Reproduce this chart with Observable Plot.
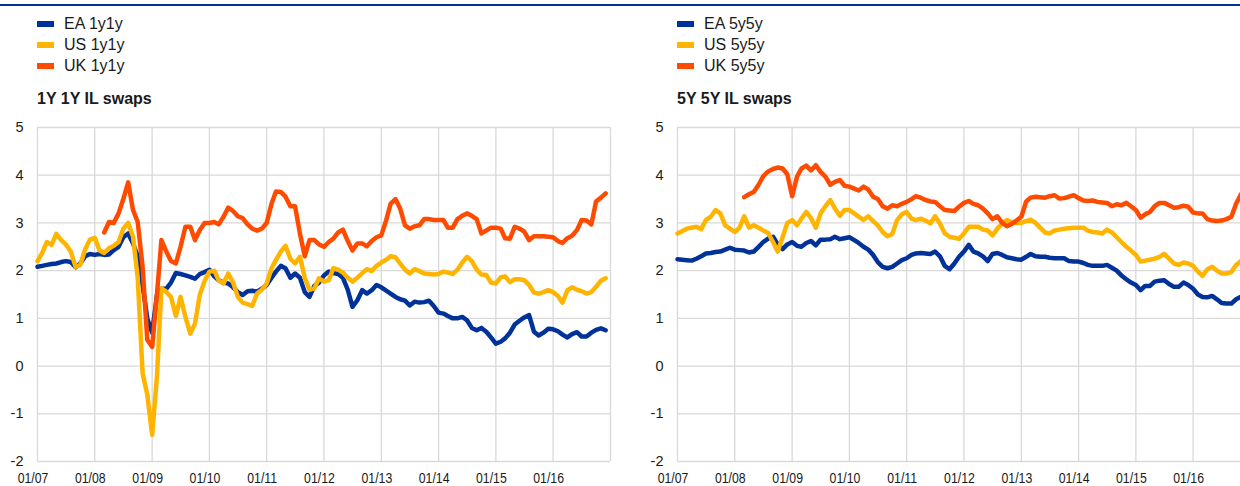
<!DOCTYPE html>
<html>
<head>
<meta charset="utf-8">
<script src="https://cdn.jsdelivr.net/npm/d3@7"></script>
<script src="https://cdn.jsdelivr.net/npm/@observablehq/plot@0.6"></script>
<style>
html, body { margin: 0; padding: 0; background: #fff; }
body { position: relative; width: 1240px; height: 486px; overflow: hidden; font-family: Arial, "Liberation Sans", sans-serif; color: #1a1a1a; }
.toprule { position: absolute; left: 0; top: 4px; width: 1240px; height: 2px; background: #003299; }
.leg { position: absolute; height: 20px; line-height: 20px; font-size: 16px; white-space: nowrap; }
.sw { position: absolute; width: 17px; height: 6px; }
.ttl { position: absolute; font-size: 16px; font-weight: bold; line-height: 20px; white-space: nowrap; }
.chart { position: absolute; top: 115px; width: 620px; height: 371px; }
.chart svg { overflow: visible; max-width: none !important; }
</style>
</head>
<body>
<div class="toprule"></div>
<div id="root"></div>
<script>
// ---- data ----
const months = [
"2007-01","2007-02","2007-03","2007-04","2007-05","2007-06","2007-07","2007-08","2007-09","2007-10","2007-11","2007-12",
"2008-01","2008-02","2008-03","2008-04","2008-05","2008-06","2008-07","2008-08","2008-09","2008-10","2008-11","2008-12",
"2009-01","2009-02","2009-03","2009-04","2009-05","2009-06","2009-07","2009-08","2009-09","2009-10","2009-11","2009-12",
"2010-01","2010-02","2010-03","2010-04","2010-05","2010-06","2010-07","2010-08","2010-09","2010-10","2010-11","2010-12",
"2011-01","2011-02","2011-03","2011-04","2011-05","2011-06","2011-07","2011-08","2011-09","2011-10","2011-11","2011-12",
"2012-01","2012-02","2012-03","2012-04","2012-05","2012-06","2012-07","2012-08","2012-09","2012-10","2012-11","2012-12",
"2013-01","2013-02","2013-03","2013-04","2013-05","2013-06","2013-07","2013-08","2013-09","2013-10","2013-11","2013-12",
"2014-01","2014-02","2014-03","2014-04","2014-05","2014-06","2014-07","2014-08","2014-09","2014-10","2014-11","2014-12",
"2015-01","2015-02","2015-03","2015-04","2015-05","2015-06","2015-07","2015-08","2015-09","2015-10","2015-11","2015-12",
"2016-01","2016-02","2016-03","2016-04","2016-05","2016-06","2016-07","2016-08","2016-09","2016-10","2016-11","2016-12"];

const ea1y1y = [
2.08,2.10,2.12,2.14,2.15,2.18,2.20,2.18,2.07,2.15,2.30,2.35,
2.33,2.35,2.33,2.34,2.43,2.50,2.70,2.78,2.57,2.30,1.70,1.00,
0.70,1.50,1.62,1.62,1.75,1.95,1.93,1.90,1.87,1.83,1.93,1.97,
2.02,1.88,1.80,1.75,1.73,1.65,1.55,1.49,1.57,1.58,1.56,1.62,
1.70,1.85,1.98,2.10,2.05,1.85,1.94,1.85,1.55,1.45,1.68,1.75,
1.90,1.98,1.95,1.93,1.85,1.60,1.24,1.38,1.59,1.52,1.59,1.70,
1.65,1.58,1.52,1.45,1.40,1.37,1.27,1.35,1.33,1.34,1.37,1.26,
1.12,1.10,1.05,1.00,1.00,1.03,0.96,0.80,0.75,0.80,0.72,0.60,
0.47,0.51,0.58,0.70,0.87,0.95,1.02,1.07,0.72,0.64,0.70,0.78,
0.77,0.73,0.66,0.60,0.67,0.71,0.62,0.62,0.70,0.76,0.79,0.75];

const us1y1y = [
2.20,2.38,2.60,2.54,2.77,2.64,2.55,2.40,2.08,2.12,2.45,2.65,
2.69,2.42,2.37,2.47,2.52,2.60,2.88,3.00,2.71,1.85,-0.15,-0.60,
-1.44,-0.20,1.63,1.56,1.45,1.05,1.45,1.03,0.68,0.89,1.50,1.78,
1.98,2.00,1.80,1.73,1.94,1.75,1.45,1.33,1.30,1.26,1.52,1.60,
1.73,2.05,2.22,2.40,2.52,2.25,2.15,2.29,1.85,1.60,1.63,1.84,
1.77,1.80,2.05,2.02,1.96,1.85,1.77,1.85,1.95,2.03,1.99,2.10,
2.17,2.23,2.30,2.28,2.15,2.02,1.94,2.03,1.99,1.94,1.93,1.92,
1.93,1.98,1.96,1.93,2.02,2.17,2.29,2.20,2.02,1.92,1.91,1.75,
1.73,1.86,1.88,1.76,1.82,1.82,1.80,1.70,1.54,1.52,1.55,1.59,
1.55,1.47,1.33,1.59,1.65,1.60,1.57,1.52,1.55,1.66,1.79,1.84];

const uk1y1y = [
null,null,null,null,null,null,null,null,null,null,null,null,
null,null,2.80,3.02,3.00,3.20,3.50,3.85,3.27,3.02,2.08,0.55,
0.40,1.52,2.64,2.40,2.20,2.15,2.50,2.92,2.92,2.64,2.85,3.00,
3.00,3.02,2.97,3.13,3.32,3.25,3.14,3.10,2.97,2.88,2.84,2.88,
3.00,3.40,3.66,3.65,3.55,3.35,3.35,2.78,2.30,2.64,2.64,2.55,
2.50,2.60,2.67,2.80,2.86,2.62,2.42,2.57,2.57,2.51,2.62,2.70,
2.74,3.06,3.40,3.50,3.30,2.95,2.88,2.93,2.95,3.08,3.08,3.06,
3.06,3.06,2.90,2.90,3.08,3.15,3.20,3.15,3.08,2.78,2.84,2.90,
2.90,2.88,2.68,2.67,2.92,2.88,2.82,2.64,2.72,2.72,2.72,2.71,
2.70,2.62,2.58,2.68,2.73,2.85,3.06,3.05,2.97,3.45,3.53,3.62];

const ea5y5y = [
2.24,2.23,2.22,2.21,2.25,2.30,2.36,2.37,2.39,2.40,2.44,2.48,
2.44,2.43,2.42,2.38,2.40,2.50,2.60,2.67,2.71,2.55,2.45,2.55,
2.60,2.52,2.50,2.58,2.62,2.53,2.65,2.65,2.66,2.71,2.66,2.68,
2.70,2.64,2.58,2.50,2.44,2.33,2.18,2.08,2.05,2.08,2.15,2.22,
2.26,2.33,2.36,2.37,2.36,2.35,2.40,2.30,2.10,2.03,2.15,2.29,
2.40,2.54,2.40,2.36,2.30,2.20,2.35,2.37,2.33,2.28,2.26,2.24,
2.23,2.29,2.35,2.30,2.29,2.29,2.27,2.26,2.26,2.26,2.20,2.19,
2.19,2.16,2.12,2.10,2.10,2.10,2.12,2.06,2.00,1.90,1.82,1.75,
1.70,1.59,1.68,1.68,1.77,1.79,1.80,1.72,1.66,1.66,1.75,1.70,
1.62,1.50,1.45,1.44,1.47,1.40,1.32,1.31,1.31,1.40,1.45,1.50];

const us5y5y = [
2.78,2.83,2.88,2.90,2.92,2.87,3.06,3.13,3.27,3.20,2.95,2.88,
2.81,2.90,3.14,2.90,2.95,2.90,2.84,2.79,2.60,2.40,2.70,3.00,
3.06,2.95,3.09,3.23,3.10,2.90,3.20,3.35,3.48,3.30,3.15,3.27,
3.27,3.20,3.13,3.06,3.14,3.04,2.95,2.81,2.72,2.77,3.06,3.18,
3.23,3.09,3.06,3.09,3.05,2.99,3.14,2.99,2.78,2.71,2.69,2.67,
2.78,2.92,2.92,2.92,2.86,2.84,2.74,2.88,2.99,3.06,3.02,3.00,
3.00,3.04,3.07,3.00,2.90,2.80,2.78,2.84,2.86,2.88,2.89,2.90,
2.90,2.90,2.84,2.81,2.80,2.78,2.86,2.80,2.70,2.60,2.50,2.42,
2.33,2.19,2.21,2.23,2.25,2.29,2.35,2.25,2.15,2.12,2.17,2.15,
2.10,1.98,1.89,2.03,2.08,2.00,1.94,1.94,1.97,2.12,2.20,2.25];

const uk5y5y = [
null,null,null,null,null,null,null,null,null,null,null,null,
null,null,3.54,3.60,3.65,3.80,3.98,4.08,4.13,4.16,4.14,4.02,
3.56,3.97,4.14,4.20,4.10,4.21,4.07,3.97,3.80,3.86,3.90,3.78,
3.76,3.72,3.68,3.76,3.70,3.55,3.50,3.35,3.30,3.37,3.35,3.40,
3.44,3.50,3.56,3.53,3.48,3.45,3.44,3.35,3.27,3.26,3.25,3.34,
3.42,3.46,3.40,3.37,3.30,3.20,3.08,3.14,3.00,2.93,2.98,3.05,
3.13,3.45,3.53,3.55,3.54,3.53,3.56,3.58,3.51,3.52,3.55,3.58,
3.52,3.47,3.46,3.47,3.44,3.43,3.42,3.35,3.39,3.37,3.42,3.35,
3.27,3.11,3.18,3.23,3.35,3.42,3.42,3.37,3.32,3.33,3.36,3.34,
3.22,3.20,3.20,3.08,3.05,3.04,3.05,3.08,3.13,3.40,3.60,3.70];

const yTicks = [-2, -1, 0, 1, 2, 3, 4, 5];
const gridYears = ["2007-01-01","2008-01-01","2009-01-01","2010-01-01","2011-01-01","2012-01-01","2013-01-01","2014-01-01","2015-01-01","2016-01-01","2017-01-01"];
const labelYears = ["2007-01-01","2008-01-01","2009-01-01","2010-01-01","2011-01-01","2012-01-01","2013-01-01","2014-01-01","2015-01-01","2016-01-01"];
const colors = ["#003299", "#ffb400", "#ff4b00"];
const leftNames = ["EA 1y1y", "US 1y1y", "UK 1y1y"];
const rightNames = ["EA 5y5y", "US 5y5y", "UK 5y5y"];
const leftTitle = "1Y 1Y IL swaps";
const rightTitle = "5Y 5Y IL swaps";

// ---- drawing ----
const root = document.getElementById("root");
const FONT = "Arial, 'Liberation Sans', sans-serif";

function legend(x, names, title) {
  const centers = [24, 45, 66];
  names.forEach((n, i) => {
    const sw = document.createElement("div");
    sw.className = "sw";
    sw.style.left = x + "px";
    sw.style.top = (centers[i] - 3) + "px";
    sw.style.background = colors[i];
    root.appendChild(sw);
    const t = document.createElement("div");
    t.className = "leg";
    t.style.left = (x + 27) + "px";
    t.style.top = (centers[i] - 10) + "px";
    t.textContent = n;
    root.appendChild(t);
  });
  const tt = document.createElement("div");
  tt.className = "ttl";
  tt.style.left = x + "px";
  tt.style.top = "89px";
  tt.textContent = title;
  root.appendChild(tt);
}

function chart(left, names, series) {
  const data = [];
  series.forEach((vals, i) => vals.forEach((v, j) => data.push({date: new Date(months[j] + "-01T00:00:00Z"), value: v, s: names[i]})));
  const p = Plot.plot({
    width: 620, height: 371,
    marginLeft: 37, marginRight: 10, marginTop: 12, marginBottom: 25,
    style: {fontFamily: FONT, fontSize: "14px", color: "#1a1a1a", background: "transparent", overflow: "visible", maxWidth: "none"},
    x: {type: "utc", domain: [new Date("2007-01-01T00:00:00Z"), new Date("2017-01-01T00:00:00Z")], axis: null},
    y: {domain: [-2, 5], axis: null},
    color: {domain: names, range: colors},
    marks: [
      Plot.ruleY(yTicks, {y: d => d, stroke: "#d9d9d9", strokeWidth: 1.3}),
      Plot.ruleX(gridYears, {x: d => new Date(d + "T00:00:00Z"), stroke: "#d9d9d9", strokeWidth: 1.3}),
      Plot.axisY(yTicks, {label: null, tickSize: 0, tickPadding: 14, fontSize: 14.5, tickFormat: d => String(d), fill: "#1a1a1a"}),
      Plot.axisX(labelYears.map(d => new Date(d + "T00:00:00Z")), {label: null, tickSize: 0, tickPadding: 11, fontSize: 15, dx: -4.5, tickFormat: d3.utcFormat("%m/%y"), fill: "#1a1a1a"}),
      Plot.line(data, {x: "date", y: "value", z: "s", stroke: "s", strokeWidth: 4.5, strokeLinejoin: "round", strokeLinecap: "round"})
    ]
  });
  // the reference's date labels are horizontally condensed
  d3.select(p).selectAll('g[aria-label="x-axis tick label"] text').each(function() {
    const t = this.getAttribute("transform");
    if (t) this.setAttribute("transform", t + " scale(0.82,1)");
  });
  const wrap = document.createElement("div");
  wrap.className = "chart";
  wrap.style.left = left + "px";
  wrap.appendChild(p);
  root.appendChild(wrap);
}

legend(37, leftNames, leftTitle);
legend(677, rightNames, rightTitle);
chart(0, leftNames, [ea1y1y, us1y1y, uk1y1y]);
chart(640, rightNames, [ea5y5y, us5y5y, uk5y5y]);
</script>
</body>
</html>
